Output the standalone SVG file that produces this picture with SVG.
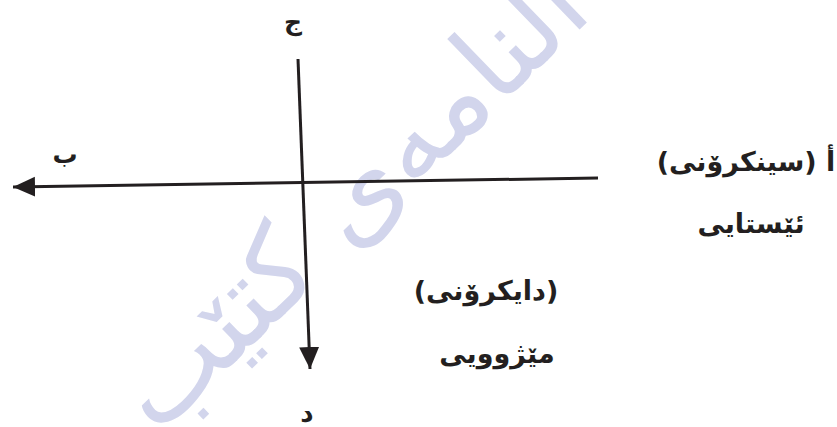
<svg xmlns="http://www.w3.org/2000/svg" width="837" height="427" viewBox="0 0 837 427">
  <style>
    .lbl { font-family: "DejaVu Sans", "Noto Sans", sans-serif; font-weight: bold; fill: #231f20; }
    .wm { font-family: "DejaVu Sans", "Noto Sans", sans-serif; fill: #d2d5ec; }
    .ln { stroke: #231f20; stroke-width: 3; fill: none; }
  </style>
  <defs>
    <marker id="ah" markerUnits="userSpaceOnUse" markerWidth="24" markerHeight="24" viewBox="0 0 24 24" refX="22" refY="12" orient="auto">
      <path d="M0,2 L22,12 L0,22 Z" fill="#231f20"/>
    </marker>
  </defs>
  <rect width="837" height="427" fill="#ffffff"/>
  <g id="watermark">
    <text class="wm" x="0" y="0" font-size="112" text-anchor="middle" transform="translate(376,226) rotate(-44)" direction="rtl">النامەی کتێب</text>
  </g>
  <g id="connectors">
    <line class="ln" x1="598" y1="178" x2="13" y2="187" marker-end="url(#ah)"/>
    <line class="ln" x1="298" y1="59" x2="310" y2="369" marker-end="url(#ah)"/>
  </g>
  <g id="node-j"><text class="lbl" x="293" y="30" font-size="25" text-anchor="middle">ج</text></g>
  <g id="node-b"><text class="lbl" x="65" y="163" font-size="25" text-anchor="middle">ب</text></g>
  <g id="node-a"><text class="lbl" x="746" y="171" font-size="27" text-anchor="middle" direction="rtl">أ (سینکرۆنی)</text></g>
  <g id="node-present"><text class="lbl" x="751" y="233" font-size="27" text-anchor="middle" direction="rtl">ئێستایی</text></g>
  <g id="node-diachronic"><text class="lbl" x="486" y="300" font-size="27" text-anchor="middle" direction="rtl">(دایکرۆنی)</text></g>
  <g id="node-historical"><text class="lbl" x="497" y="363" font-size="27" text-anchor="middle" direction="rtl">مێژوویی</text></g>
  <g id="node-d"><text class="lbl" x="307" y="422" font-size="26" text-anchor="middle">د</text></g>
</svg>
